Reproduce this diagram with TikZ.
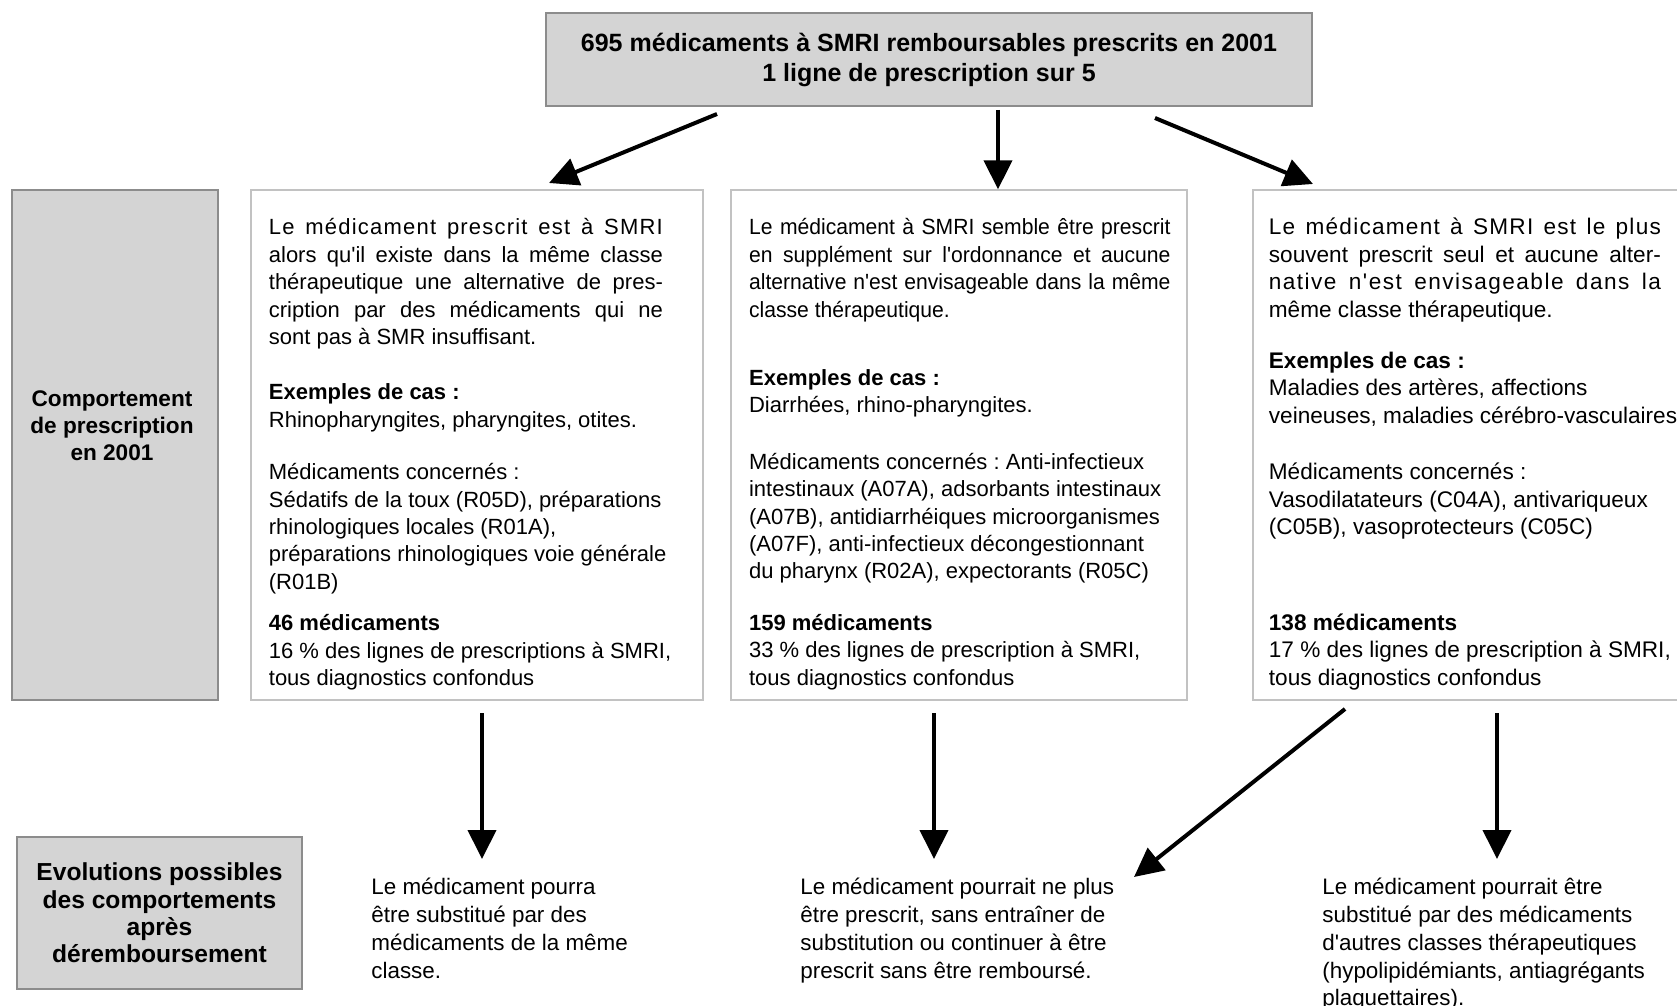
\documentclass[tikz,border=0pt]{standalone}
\usepackage{fontspec}
\setmainfont{Liberation Sans}
\newfontfamily\plainsans{Liberation Sans}
\newfontfamily\narrowsans[FakeStretch=0.96]{Liberation Sans}
\usetikzlibrary{arrows.meta}
\hbadness=10000
\hfuzz=40pt
\frenchspacing

\definecolor{boxgray}{gray}{0.83}
\definecolor{edgegray}{gray}{0.55}
\definecolor{edgelight}{gray}{0.76}

\newcommand{\bodysize}{\plainsans\fontsize{11}{13.72}\selectfont}
\newcommand{\spread}{\addfontfeature{LetterSpace=5.5}}

\tikzset{
  graybox/.style={draw=edgegray, fill=boxgray, line width=0.7pt, inner sep=0pt},
  whitebox/.style={draw=edgelight, fill=white, line width=0.7pt, inner sep=0pt},
  arr/.style={line width=2pt, -{Triangle[length=14.5pt, width=14pt]}},
  bodytext/.style={anchor=base west, inner sep=0pt},
}

\begin{document}
\begin{tikzpicture}[x=0.5pt, y=-0.5pt]
    \useasboundingbox (0,0) rectangle (1677,1006);
    \clip (0,0) rectangle (1677,1006);

    % Total
    \node [graybox, minimum width=383pt, minimum height=46.5pt, align=center,
           font=\fontsize{12.5}{15}\selectfont\bfseries] (total) at (929,59.5)
          {695 médicaments à SMRI remboursables prescrits en 2001\\1 ligne de prescription sur 5};

    % Row labels
    \node [graybox, minimum width=103pt, minimum height=255pt] (comport) at (115,445) {};
    \node [align=center, inner sep=0pt, font=\fontsize{11.3}{13.5}\selectfont\bfseries]
          (comportlbl) at (112,426) {Comportement\\de prescription\\en 2001};
    \node [graybox, minimum width=142.5pt, minimum height=76pt, align=center,
           font=\fontsize{12.3}{13.6}\selectfont\bfseries] (evol) at (159.5,913)
          {Evolutions possibles\\des comportements\\après\\déremboursement};

    % Prescription behaviours in 2001
    \foreach \n/\x/\w in {boxA/477/226pt, boxB/959/228pt, boxC/1486.5/233.5pt} {
      \node [whitebox, minimum width=\w, minimum height=255pt] (\n) at (\x,445) {};
    }

    \node [bodytext] (txtA) at (268.5,234.7) {\begin{minipage}[t]{240pt}\bodysize\raggedright
      {\spread\makebox[197pt][s]{Le médicament prescrit est à SMRI}}\\
      \makebox[197pt][s]{alors qu'il existe dans la même classe}\\
      \makebox[197pt][s]{thérapeutique une alternative de pres-}\\
      \makebox[197pt][s]{cription par des médicaments qui ne}\\
      sont pas à SMR insuffisant.\\[14pt]
      \textbf{Exemples de cas :}\\
      Rhinopharyngites, pharyngites, otites.\\[12.4pt]
      Médicaments concernés :\\
      Sédatifs de la toux (R05D), préparations\\
      rhinologiques locales (R01A),\\
      préparations rhinologiques voie générale\\
      (R01B)\\[7pt]
      \textbf{46 médicaments}\\
      16 \% des lignes de prescriptions à SMRI,\\
      tous diagnostics confondus
    \end{minipage}};

    \node [bodytext] (txtB) at (748.7,234.7) {\begin{minipage}[t]{240pt}\bodysize\raggedright
      {\narrowsans\makebox[210.7pt][s]{Le médicament à SMRI semble être prescrit}}\\
      {\narrowsans\makebox[210.7pt][s]{en supplément sur l'ordonnance et aucune}}\\
      {\narrowsans\makebox[210.7pt][s]{alternative n'est envisageable dans la même}}\\
      {\narrowsans classe thérapeutique.}\\[20.4pt]
      \textbf{Exemples de cas :}\\
      Diarrhées, rhino-pharyngites.\\[14.5pt]
      Médicaments concernés : Anti-infectieux\\
      intestinaux (A07A), adsorbants intestinaux\\
      (A07B), antidiarrhéiques microorganismes\\
      (A07F), anti-infectieux décongestionnant\\
      du pharynx (R02A), expectorants (R05C)\\[11.9pt]
      \textbf{159 médicaments}\\
      33 \% des lignes de prescription à SMRI,\\
      tous diagnostics confondus
    \end{minipage}};

    \node [bodytext] (txtC) at (1268.5,234.7) {\begin{minipage}[t]{240pt}\bodysize\fontsize{11.3}{13.72}\selectfont\raggedright
      {\spread\makebox[196pt][s]{Le médicament à SMRI est le plus}}\\
      \makebox[196pt][s]{souvent prescrit seul et aucune alter-}\\
      {\addfontfeature{LetterSpace=6.5}\makebox[196pt][s]{native n'est envisageable dans la}}\\
      même classe thérapeutique.\\[11.9pt]
      \textbf{Exemples de cas :}\\
      Maladies des artères, affections\\
      veineuses, maladies cérébro-vasculaires\\[14.5pt]
      Médicaments concernés :\\
      Vasodilatateurs (C04A), antivariqueux\\
      (C05B), vasoprotecteurs (C05C)\\[34.3pt]
      \textbf{138 médicaments}\\
      17 \% des lignes de prescription à SMRI,\\
      tous diagnostics confondus
    \end{minipage}};

    % Possible evolutions after delisting
    \node [bodytext] (evA) at (371,894.6) {\begin{minipage}[t]{200pt}\bodysize\fontsize{11.2}{13.9}\selectfont\raggedright
      Le médicament pourra\\
      être substitué par des\\
      médicaments de la même\\
      classe.
    \end{minipage}};
    \node [bodytext] (evB) at (800,894.6) {\begin{minipage}[t]{200pt}\bodysize\fontsize{11.2}{13.9}\selectfont\raggedright
      Le médicament pourrait ne plus\\
      être prescrit, sans entraîner de\\
      substitution ou continuer à être\\
      prescrit sans être remboursé.
    \end{minipage}};
    \node [bodytext] (evC) at (1322,894.6) {\begin{minipage}[t]{200pt}\bodysize\fontsize{11.2}{13.9}\selectfont\raggedright
      Le médicament pourrait être\\
      substitué par des médicaments\\
      d'autres classes thérapeutiques\\
      (hypolipidémiants, antiagrégants\\
      plaquettaires).
    \end{minipage}};

    % Connections from the total
    \coordinate (a1s) at (717,114);
    \coordinate (a1e) at (549,183);
    \coordinate (a2s) at (998,110);
    \coordinate (a3s) at (1155,118);
    \coordinate (a3e) at (1313,184);
    \draw [arr] (a1s) -- (a1e);
    \draw [arr] (a2s) -- (a2s |- boxB.north);
    \draw [arr] (a3s) -- (a3e);

    % Connections to the evolutions
    \foreach \i/\x in {1/482, 2/934, 4/1497} {
      \coordinate (d\i s) at (\x,713);
      \coordinate (d\i e) at (\x,859);
      \draw [arr] (d\i s) -- (d\i e);
    }
    \coordinate (d3s) at (1345,709);
    \coordinate (d3e) at (1134,877);
    \draw [arr] (d3s) -- (d3e);
\end{tikzpicture}
\end{document}
